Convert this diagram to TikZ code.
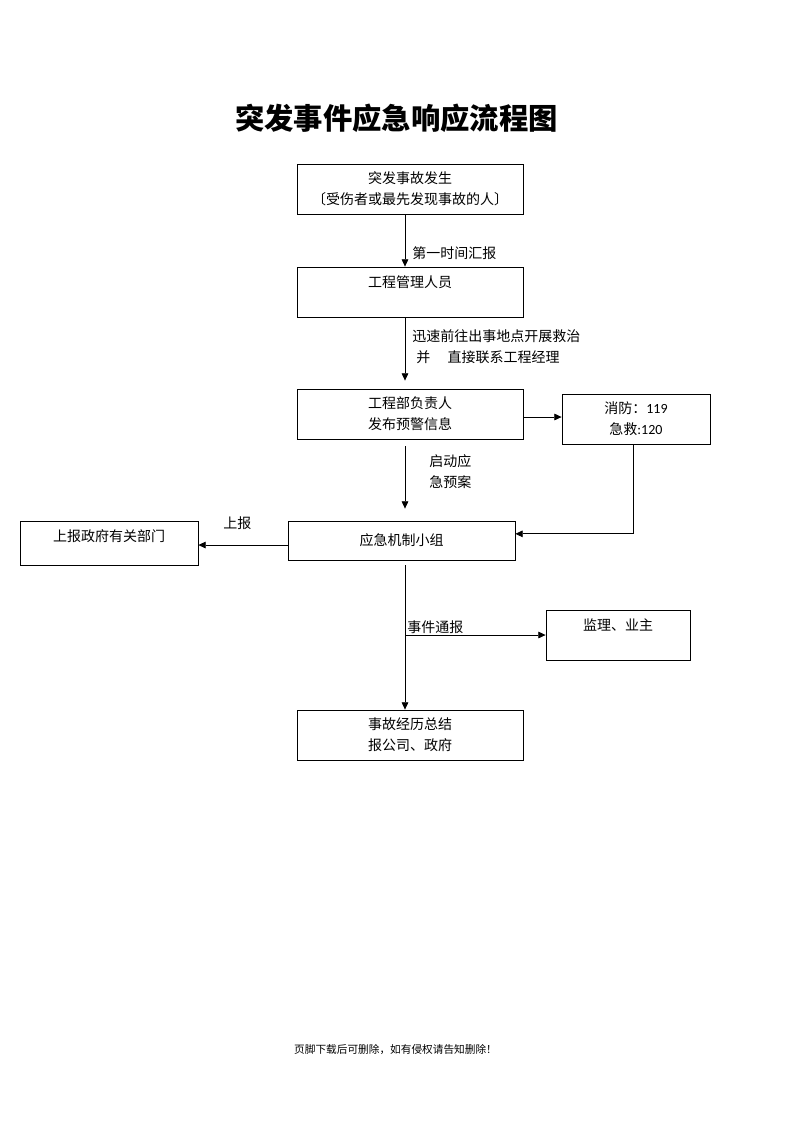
\documentclass[tikz,border=0pt]{standalone}
\usepackage{fontspec}
\newfontfamily\cjk{Noto Sans CJK SC}
\newfontfamily\lat{Carlito}
\usetikzlibrary{arrows.meta,positioning}

\begin{document}
\begin{tikzpicture}[x=0.75pt,y=-0.75pt,>={Triangle[length=5.5pt,width=5pt]},
    font=\cjk\fontsize{10.5}{15.75}\selectfont]
  \tikzstyle{box}=[draw,rectangle,line width=0.6pt,align=center,inner sep=0pt,
    minimum width=169.5pt,minimum height=37.5pt]
  \tikzstyle{lbl}=[anchor=west,inner sep=0pt,align=left]
  \tikzstyle{arr}=[->,line width=0.6pt]
  \useasboundingbox (0,0) rectangle (793,1122);

  \node (title) at (396.5,118) {\cjk\bfseries\fontsize{22}{26}\selectfont 突发事件应急响应流程图};

  \node[box] (occur) at (410,189) {突发事故发生\\〔受伤者或最先发现事故的人〕};
  \node[box] (mgr) at (410,292) {工程管理人员\\~};
  \node[box] (dept) at (410,414) {工程部负责人\\发布预警信息};
  \node[box,minimum width=111pt] (fire) at (636,419) {消防：{\lat 119}\\急救{\lat :120}};
  \node[box,minimum width=170.25pt,minimum height=29.25pt] (group) at (401.5,540.5) {应急机制小组};
  \node[box,minimum width=133.5pt,minimum height=33pt] (gov) at (109,543) {上报政府有关部门\\[-4pt]~};
  \node[box,minimum width=108pt] (super) at (618,635) {监理、业主\\~};
  \node[box] (sum) at (410,735) {事故经历总结\\报公司、政府};
  \coordinate (vx) at (405,0);

  \draw[arr] (occur.south -| vx) -- (mgr.north -| vx);
  \draw[arr,shorten >=6pt] (mgr.south -| vx) -- (dept.north -| vx);
  \draw[arr] ([yshift=-2.25pt]dept.east) -- ([yshift=-2.25pt]dept.east -| fire.west);
  \draw[arr,shorten <=5.25pt,shorten >=9pt] (dept.south -| vx) -- (group.north -| vx);
  \draw[arr] (fire.south -| 633,0) |- ([yshift=5pt]group.east);
  \draw[arr] ([yshift=-3.4pt]group.west) -- ([yshift=-3.4pt]group.west -| gov.east);
  \draw[arr,shorten <=3.75pt] (group.south -| vx) -- (sum.north -| vx);
  \draw[arr] (vx |- super.west) -- (super.west);

  \node[lbl] (l1) at (412,253) {第一时间汇报};
  \node[lbl] (l2) at (412,347) {迅速前往出事地点开展救治\\\hspace{3pt}并\hspace{13pt}直接联系工程经理};
  \node[lbl] (l3) at (429,472) {启动应\\急预案};
  \node[lbl] (l4) at (223,523) {上报};
  \node[lbl] (l5) at (407,627) {事件通报};

  \node (foot) at (395.5,1050) {\fontsize{8}{10}\selectfont 页脚下载后可删除，如有侵权请告知删除！};
\end{tikzpicture}
\end{document}
